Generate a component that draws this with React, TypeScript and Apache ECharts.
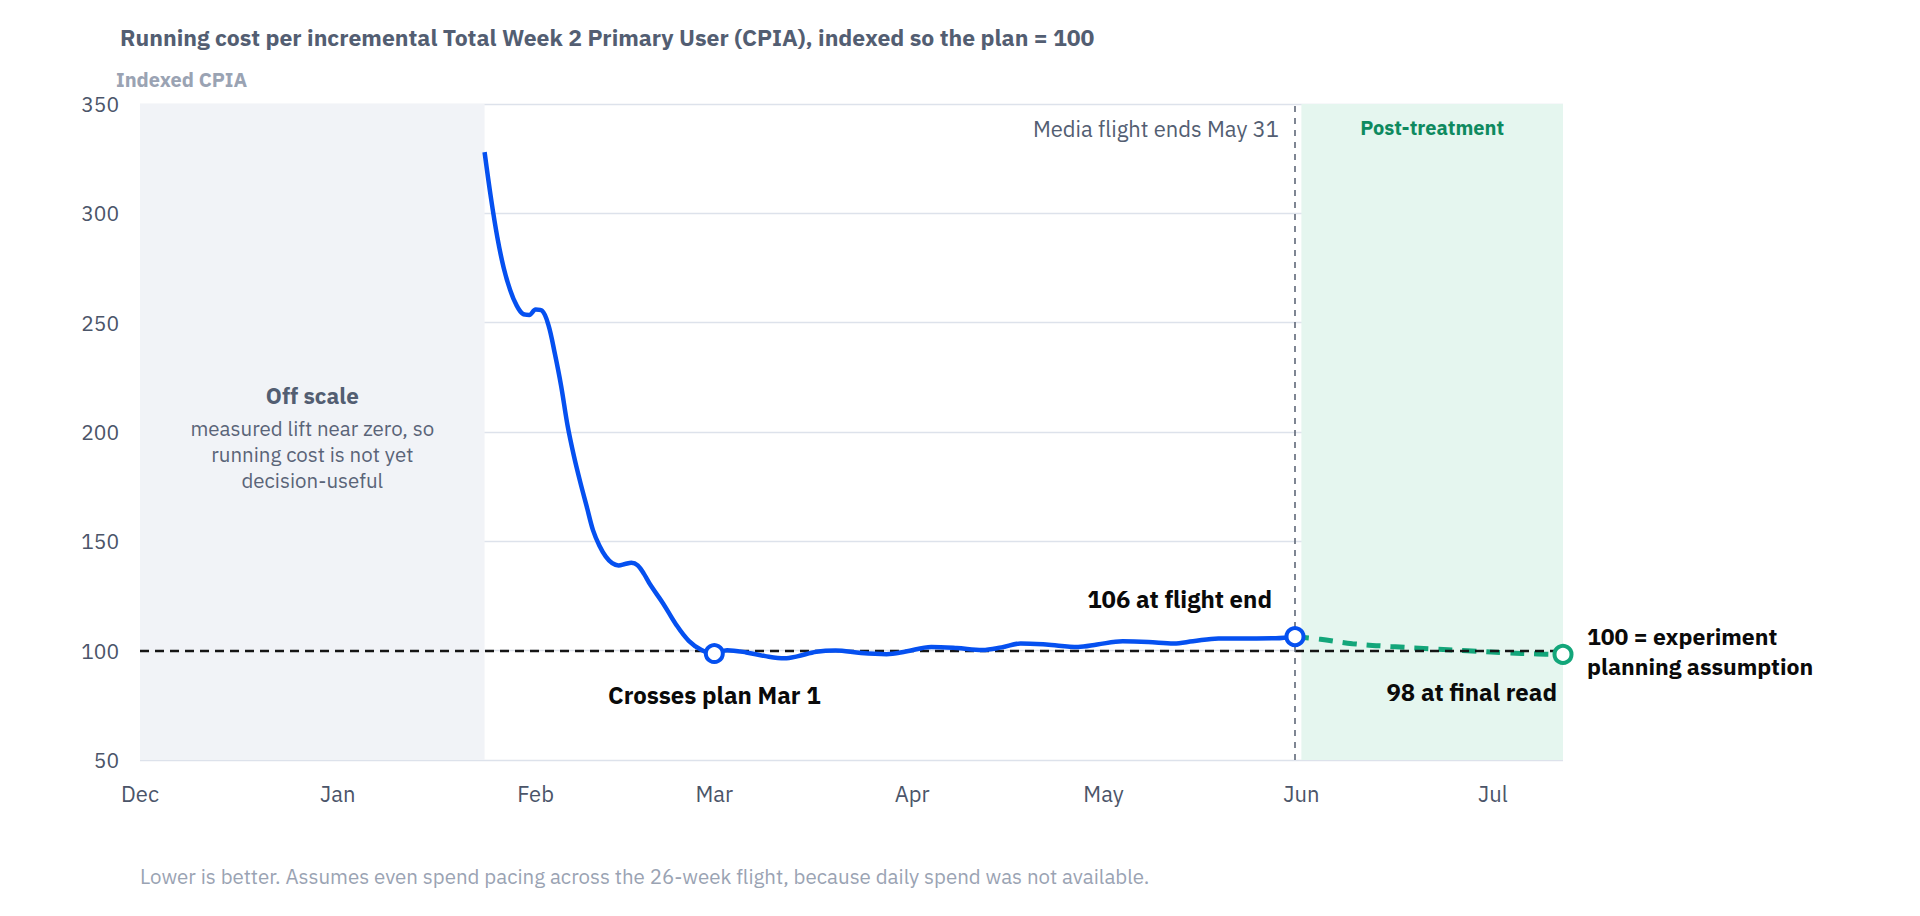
import React, { useEffect, useRef } from "react";
import * as echarts from "echarts";

// ---------- data ----------
const lineDates = [
  "2025-01-24", "2025-01-25", "2025-01-26", "2025-01-27", "2025-01-28", "2025-01-29",
  "2025-01-30", "2025-01-31", "2025-02-01", "2025-02-02", "2025-02-03", "2025-02-04",
  "2025-02-05", "2025-02-06", "2025-02-07", "2025-02-08", "2025-02-09", "2025-02-10",
  "2025-02-11", "2025-02-12", "2025-02-13", "2025-02-14", "2025-02-15", "2025-02-16",
  "2025-02-17", "2025-02-18", "2025-02-19", "2025-02-21", "2025-02-23", "2025-02-25",
  "2025-02-27", "2025-03-01", "2025-03-03", "2025-03-06", "2025-03-09", "2025-03-12",
  "2025-03-14", "2025-03-17", "2025-03-20", "2025-03-24", "2025-03-28", "2025-03-31",
  "2025-04-04", "2025-04-08", "2025-04-12", "2025-04-15", "2025-04-18", "2025-04-22",
  "2025-04-27", "2025-04-30", "2025-05-04", "2025-05-08", "2025-05-12", "2025-05-15",
  "2025-05-19", "2025-05-24", "2025-05-28", "2025-05-31",
];
const lineValues = [
  328, 307, 289, 275, 265, 258,
  254, 253.5, 256, 255.5, 249, 236,
  221, 203, 189, 177, 166, 155,
  148, 143, 140, 139, 139.6, 140.2,
  139, 135, 130, 121.5, 112, 104.5,
  100.3, 98.7, 100.2, 99.2, 97.5, 96.5,
  97.4, 99.5, 100.1, 98.9, 98.4, 99.6,
  101.7, 101.2, 100.3, 101.5, 103.3, 102.8,
  101.7, 102.8, 104.3, 104, 103.3, 104.3,
  105.6, 105.6, 105.7, 106.4,
];

const postDates = [
  "2025-05-31", "2025-06-04", "2025-06-09", "2025-06-15", "2025-06-21",
  "2025-06-27", "2025-07-03", "2025-07-08", "2025-07-12",
];
const postValues = [106.4, 105.2, 103.2, 101.9, 100.9, 100, 99, 98.5, 98.3];

const keyDates = ["2025-03-01", "2025-05-31", "2025-07-12"];
const keyValues = [98.7, 106.4, 98.3];
const keyLabels = ["Crosses plan Mar 1", "106 at flight end", "98 at final read"];

const monthLabels = ["Jan", "Feb", "Mar", "Apr", "May", "Jun", "Jul", "Aug", "Sep", "Oct", "Nov", "Dec"];

const axisStart = "2024-12-01";
const axisEnd = "2025-07-12";
const offScaleEnd = "2025-01-24";
const flightEnd = "2025-05-31";
const postStart = "2025-06-01";
const planValue = 100;
const yMin = 50;
const yMax = 350;
const yStep = 50;

const titleText =
  "Running cost per incremental Total Week 2 Primary User (CPIA), indexed so the plan = 100";
const yAxisTitle = "Indexed CPIA";
const footnote =
  "Lower is better. Assumes even spend pacing across the 26-week flight, because daily spend was not available.";
const offScaleTitle = "Off scale";
const offScaleLines = ["measured lift near zero, so", "running cost is not yet", "decision-useful"];
const postLabel = "Post-treatment";
const flightLabel = "Media flight ends May 31";
const planLabel = ["100 = experiment", "planning assumption"];

// ---------- colours ----------
const BLUE = "#0550f0";
const GREEN = "#13a67a";
const GREEN_TEXT = "#0e8a5f";
const SLATE = "#535e72";
const LABEL = "#4b5569";
const MUTED = "#9aa3b3";
const GRID = "#dde2eb";
const INK = "#0a0a0a";
const FONT = "'IBM Plex Sans', Roboto, 'Noto Sans', sans-serif";

const ts = (s: string) => new Date(s + "T00:00:00").getTime();

export default function App() {
  const ref = useRef<HTMLDivElement>(null);

  useEffect(() => {
    document.body.style.margin = "0";
    if (!ref.current) return;
    const chart = echarts.init(ref.current, undefined, { renderer: "svg" });

    const lineData = lineDates.map((d, i) => [ts(d), lineValues[i]]);
    const postData = postDates.map((d, i) => [ts(d), postValues[i]]);

    const keyStyles = [
      { color: BLUE, label: { position: "bottom", distance: 19, align: "center", offset: [0, 0] } },
      { color: BLUE, label: { position: "top", distance: 15, align: "right", offset: [-23, 0] } },
      { color: GREEN, label: { position: "bottom", distance: 15, align: "right", offset: [-6, 0] } },
    ];
    const keyData = keyDates.map((d, i) => ({
      value: [ts(d), keyValues[i]],
      itemStyle: { color: "#ffffff", borderColor: keyStyles[i].color, borderWidth: 4, opacity: 1 },
      label: {
        show: true,
        formatter: keyLabels[i],
        fontSize: 24,
        fontWeight: 700,
        color: INK,
        fontFamily: FONT,
        ...keyStyles[i].label,
      },
    }));

    const option: any = {
      animation: false,
      textStyle: { fontFamily: FONT },
      title: {
        text: titleText,
        left: 115,
        top: 20,
        textStyle: { fontSize: 23, fontWeight: 700, color: SLATE, fontFamily: FONT },
      },
      graphic: [
        {
          type: "text",
          left: 116,
          top: 69,
          style: { text: yAxisTitle, fontSize: 20, fontWeight: 700, fill: MUTED, fontFamily: FONT },
        },
        {
          type: "text",
          left: 140,
          top: 866,
          style: { text: footnote, fontSize: 20.5, fill: MUTED, fontFamily: FONT },
        },
      ],
      grid: { left: 140, right: 357, top: 104, bottom: 156, containLabel: false },
      xAxis: {
        type: "time",
        min: ts(axisStart),
        max: ts(axisEnd),
        minInterval: 28 * 86400000,
        maxInterval: 31 * 86400000,
        axisLine: { show: false },
        axisTick: { show: false },
        splitLine: { show: false },
        axisLabel: {
          fontSize: 22,
          color: LABEL,
          margin: 22,
          fontFamily: FONT,
          hideOverlap: false,
          formatter: (v: number) => {
            const d = new Date(v);
            return d.getDate() === 1 ? monthLabels[d.getMonth()] : "";
          },
        },
      },
      yAxis: {
        type: "value",
        min: yMin,
        max: yMax,
        interval: yStep,
        axisLine: { show: false },
        axisTick: { show: false },
        splitLine: { lineStyle: { color: GRID, width: 1.4 } },
        axisLabel: { fontSize: 21, color: LABEL, margin: 21, fontFamily: FONT },
      },
      series: [
        {
          name: "Running CPIA",
          type: "line",
          data: lineData,
          smooth: 0.35,
          showSymbol: false,
          z: 5,
          lineStyle: { color: BLUE, width: 4.5 },
          markArea: {
            silent: true,
            data: [
              [
                {
                  xAxis: ts(axisStart),
                  itemStyle: { color: "#f1f3f7" },
                  label: {
                    show: true,
                    position: "inside",
                    offset: [0, 2],
                    formatter: ["{h|" + offScaleTitle + "}", ...offScaleLines.map((l) => "{b|" + l + "}")].join("\n"),
                    rich: {
                      h: { fontSize: 22.5, fontWeight: 700, color: SLATE, lineHeight: 40, fontFamily: FONT, align: "center" },
                      b: { fontSize: 20.5, color: "#5a6478", lineHeight: 26, fontFamily: FONT, align: "center" },
                    },
                  },
                },
                { xAxis: ts(offScaleEnd) },
              ],
              [
                {
                  xAxis: ts(postStart),
                  itemStyle: { color: "#e5f6ef" },
                  label: {
                    show: true,
                    position: "insideTop",
                    distance: 13,
                    formatter: postLabel,
                    fontSize: 20,
                    fontWeight: 700,
                    color: GREEN_TEXT,
                    fontFamily: FONT,
                  },
                },
                { xAxis: ts(axisEnd) },
              ],
            ],
          },
          markLine: {
            silent: true,
            symbol: "none",
            data: [
              {
                yAxis: planValue,
                lineStyle: { color: "#151515", width: 2.4, type: [9, 6] },
                label: {
                  show: true,
                  position: "end",
                  distance: 24,
                  formatter: planLabel.join("\n"),
                  fontSize: 23,
                  fontWeight: 700,
                  lineHeight: 30,
                  color: INK,
                  align: "left",
                  fontFamily: FONT,
                },
              },
              {
                xAxis: ts(flightEnd),
                lineStyle: { color: "#5f6878", width: 1.6, type: [6, 6] },
                label: { show: false },
              },
            ],
          },
          markPoint: {
            silent: true,
            symbol: "circle",
            symbolSize: 0,
            data: [
              {
                coord: [ts(flightEnd), yMax],
                label: {
                  show: true,
                  position: "left",
                  distance: 16,
                  offset: [0, 24],
                  formatter: flightLabel,
                  fontSize: 22,
                  color: SLATE,
                  fontFamily: FONT,
                },
              },
            ],
          },
        },
        {
          name: "Post-treatment read",
          type: "line",
          data: postData,
          smooth: 0.4,
          showSymbol: false,
          z: 4,
          lineStyle: { color: GREEN, width: 5, type: [14, 10] },
        },
        {
          name: "Key reads",
          type: "scatter",
          data: keyData,
          symbol: "circle",
          symbolSize: 17,
          itemStyle: { opacity: 1 },
          z: 10,
        },
      ],
    };

    chart.setOption(option);
    return () => chart.dispose();
  }, []);

  return <div ref={ref} style={{ width: 1920, height: 916 }} />;
}
